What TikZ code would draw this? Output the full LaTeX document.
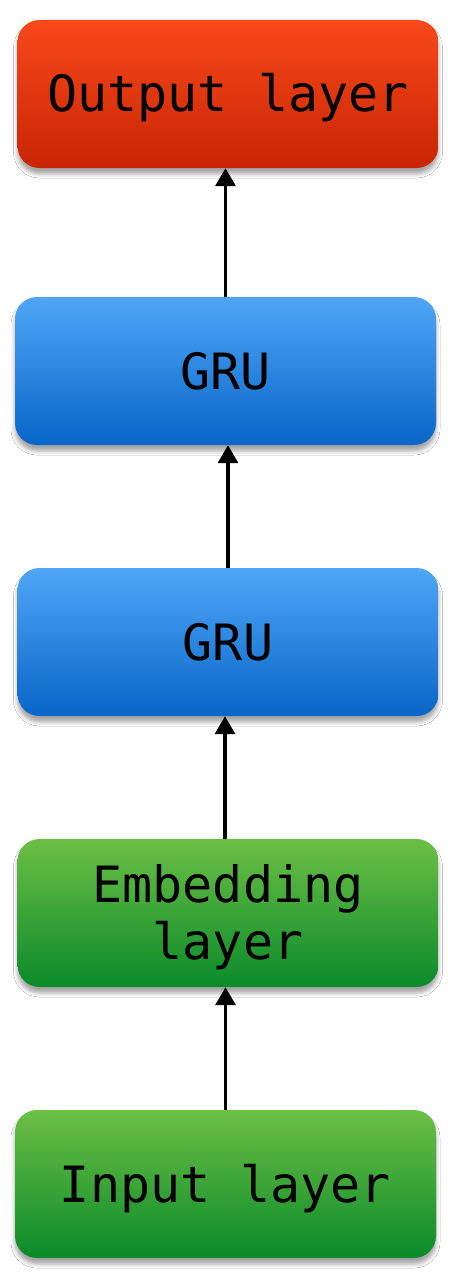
\documentclass[tikz,border=0pt]{standalone}
\usepackage{fontspec}
\newfontfamily\dejamono{DejaVu Sans Mono}
\usetikzlibrary{shadows.blur,arrows.meta}
\definecolor{redtop}{HTML}{F8491A}
\definecolor{redbot}{HTML}{C82504}
\definecolor{bluetop}{HTML}{4FA6F7}
\definecolor{bluebot}{HTML}{0866C8}
\definecolor{greentop}{HTML}{6CBF45}
\definecolor{greenbot}{HTML}{0A8A2A}
\tikzset{
  layerbox/.style={rectangle, rounded corners=22pt, minimum width=421pt,
    minimum height=148pt, inner sep=0pt,
    font=\dejamono\fontsize{50}{57}\selectfont,
    blur shadow={shadow xshift=0pt, shadow yshift=-6pt, shadow blur radius=4pt, shadow opacity=35}},
  oneline/.style={text height=44pt, text depth=8pt},
  twoline/.style={align=center, text height=101pt, text depth=8pt},
  redbox/.style={layerbox, oneline, top color=redtop, bottom color=redbot},
  bluebox/.style={layerbox, oneline, top color=bluetop, bottom color=bluebot},
  greenbox/.style={layerbox, top color=greentop, bottom color=greenbot},
  uparrow/.style={line width=3.5pt, -{Triangle[width=20pt,length=18pt]}}
}
\begin{document}
\begin{tikzpicture}[x=1pt,y=-1pt]
\fill[white] (0,0) rectangle (457,1287);
\useasboundingbox (0,0) rectangle (457,1287);
\node[redbox] (out) at (228,94) {Output layer};
\node[bluebox] (gruA) at (225.5,371) {GRU};
\node[bluebox] (gruB) at (228,642) {GRU};
\node[greenbox, twoline] (emb) at (228,913) {Embedding\\layer};
\node[greenbox, oneline] (inp) at (225.5,1184) {Input layer};
\draw[uparrow] (gruA.north) -- (gruA.north |- out.south);
\draw[uparrow] (gruB.north) -- (gruB.north |- gruA.south);
\draw[uparrow] ([xshift=-3pt]emb.north) -- ([xshift=-3pt]emb.north |- gruB.south);
\draw[uparrow] (inp.north) -- (inp.north |- emb.south);
\end{tikzpicture}
\end{document}
